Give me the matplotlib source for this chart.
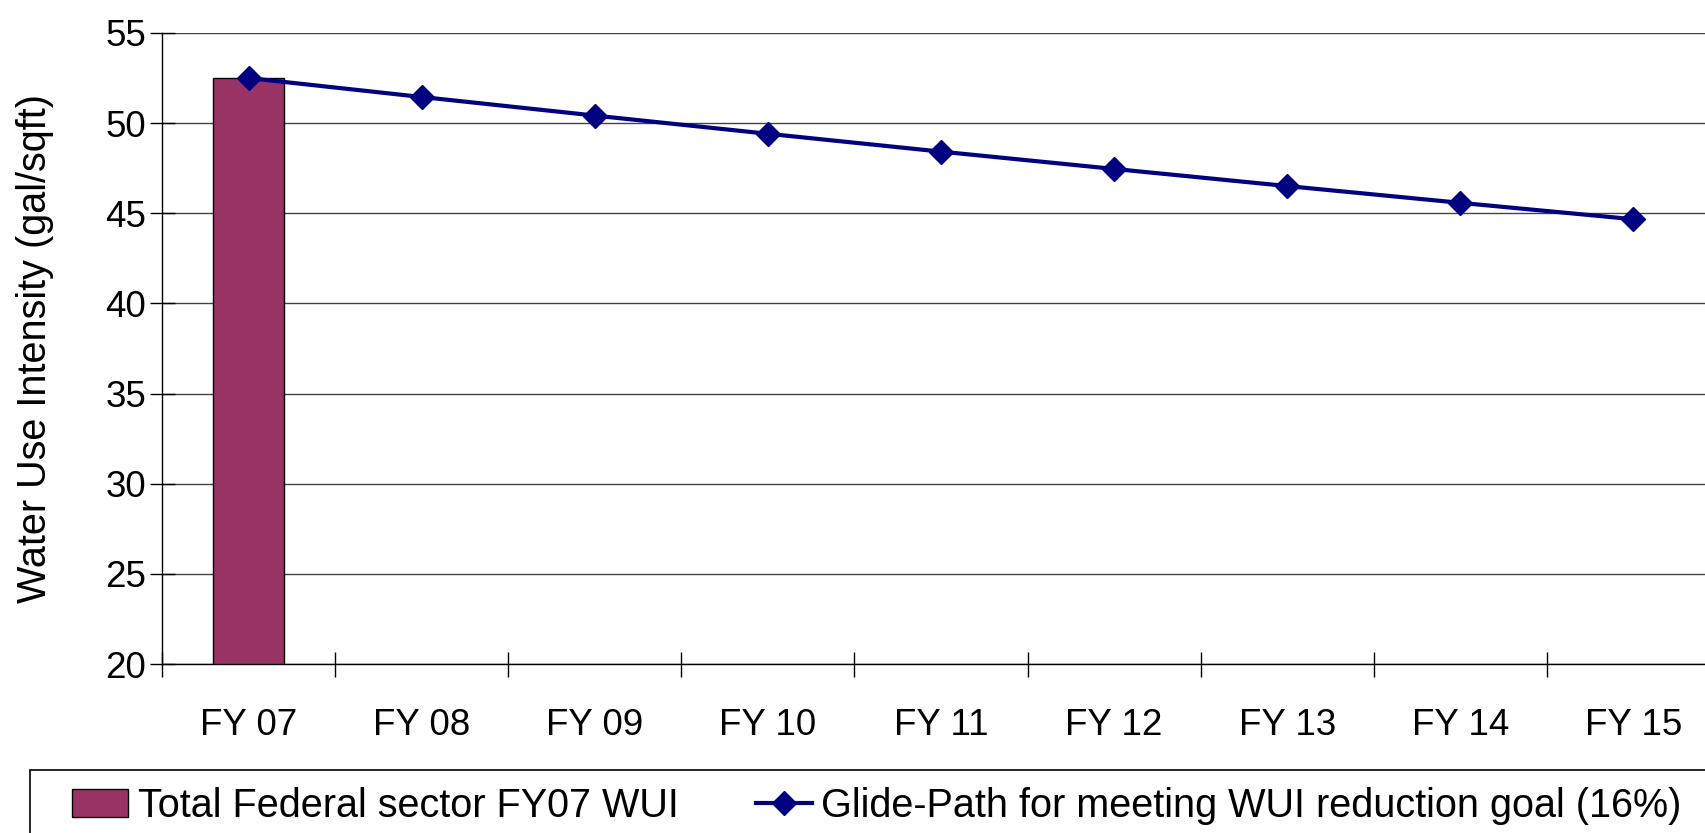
import matplotlib
matplotlib.use("Agg")
import matplotlib.pyplot as plt
from matplotlib.patches import Rectangle
from matplotlib.lines import Line2D
from matplotlib.ticker import FixedLocator

plt.rcParams['font.family'] = ['Liberation Sans', 'DejaVu Sans']

years = ["FY 07", "FY 08", "FY 09", "FY 10", "FY 11", "FY 12", "FY 13", "FY 14", "FY 15"]
baseline_wui = [52.5]
glide_path = [52.5, 51.45, 50.42, 49.41, 48.42, 47.46, 46.51, 45.58, 44.67]

bar_label = "Total Federal sector FY07 WUI"
line_label = "Glide-Path for meeting WUI reduction goal (16%)"

W, H = 1705, 833
fig = plt.figure(figsize=(W / 100, H / 100), dpi=100)
# plot area runs a little past the right edge of the picture, like the original crop
ax = fig.add_axes([162 / W, 1 - 664 / H, (1720 - 162) / W, (664 - 33) / H])

x = list(range(len(years)))

ax.set_ylim(20, 55)
ax.set_xlim(-0.5, len(years) - 0.5)
ax.set_yticks(range(20, 56, 5))
ax.yaxis.grid(True, color='#444444', linewidth=1)
ax.set_axisbelow(True)

ax.bar(x[:1], baseline_wui, width=0.41, color='#993366', edgecolor='black',
       linewidth=1, zorder=2)
ax.plot(x, glide_path, color='#000080', linewidth=3, marker='D', markersize=12,
        zorder=3, clip_on=False)

ax.set_xticks(x)
ax.set_xticklabels(years)
ax.xaxis.set_minor_locator(FixedLocator([i - 0.5 for i in range(len(years) + 1)]))
ax.tick_params(axis='x', which='major', length=0, pad=32, labelsize=26.5)
ax.tick_params(axis='x', which='minor', direction='inout', length=18, width=1)
ax.tick_params(axis='y', direction='inout', length=18, width=1, pad=2.5, labelsize=26.5)

for s in ['top', 'right']:
    ax.spines[s].set_visible(False)
for s in ['left', 'bottom']:
    ax.spines[s].set_color('black')
    ax.spines[s].set_linewidth(1)

ax.set_ylabel("Water Use Intensity (gal/sqft)", fontsize=28.5)
ax.yaxis.set_label_coords((54 - 162) / (1720 - 162), 0.5)

# legend frame, cut off by the figure edge as in the original
fig.patches.append(Rectangle((30 / W, -0.05), 1.0, (1 - 770 / H) + 0.05,
                             transform=fig.transFigure, facecolor='white',
                             edgecolor='black', linewidth=1.2))

handles = [Rectangle((0, 0), 1, 1, facecolor='#993366', edgecolor='black', linewidth=1),
           Line2D([], [], color='#000080', linewidth=3, marker='D', markersize=12)]
fig.legend(handles, [bar_label, line_label], loc='center left',
           bbox_to_anchor=(72 / W, 1 - 806 / H), ncol=2, frameon=False,
           fontsize=28.5, handlelength=1.41, handleheight=0.7, handletextpad=0.25,
           columnspacing=1.95, borderaxespad=0, borderpad=0)

fig.savefig("out.png", dpi=100, facecolor='white')
